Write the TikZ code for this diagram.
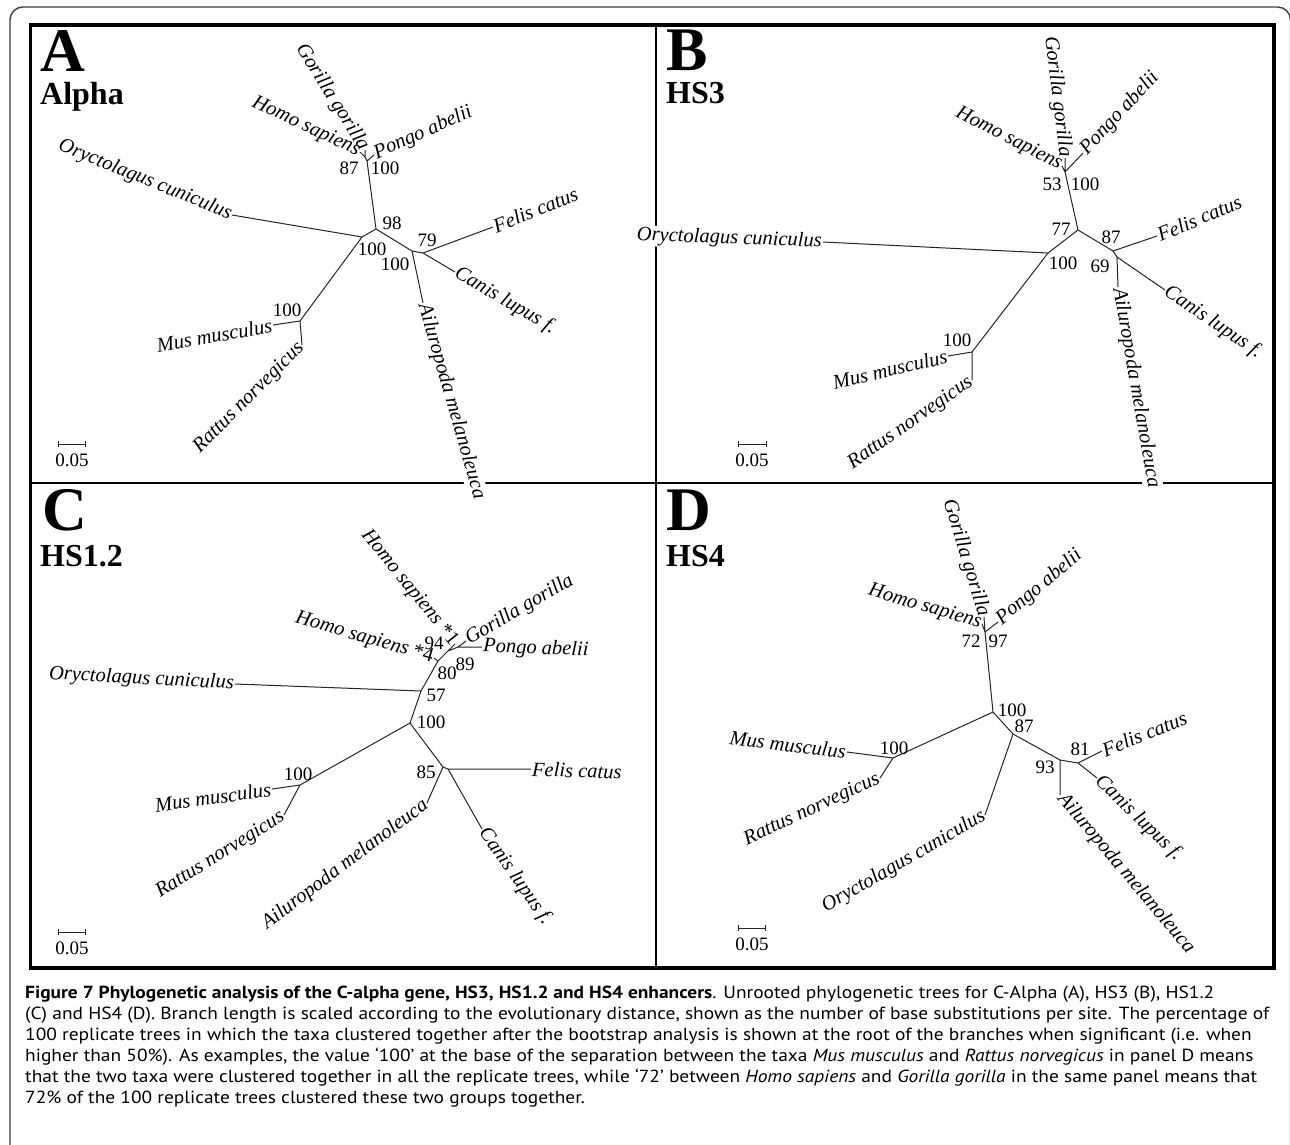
\documentclass[tikz,border=0pt]{standalone}
\usepackage{fontspec}
\usepackage{graphicx}
\setmainfont{Liberation Serif}
\newfontfamily\capfont{PT Sans}
\newcommand\taxfont{\fontsize{20.5}{24}\selectfont\itshape}
\newcommand\numfont{\fontsize{19}{22}\selectfont}
\newcommand\panelfont{\fontsize{62}{62}\selectfont\bfseries}
\newcommand\subfont{\fontsize{32}{32}\selectfont\bfseries}
\newcommand\capsize{\capfont\fontsize{17.5}{21}\selectfont}
\newsavebox\capbox
\newlength\capwd
\tikzset{
  br/.style={line width=1pt, black!85},
  taxon/.style={font=\taxfont, inner sep=1pt},
  tw/.style={taxon, anchor=west},
  te/.style={taxon, anchor=east},
  bs/.style={font=\numfont, inner sep=0pt},
  cut/.style={fill=white},
  plet/.style={font=\panelfont, anchor=north west, inner sep=0pt},
  psub/.style={font=\subfont, anchor=north west, inner sep=0pt},
  capline/.style={anchor=base west, inner sep=0pt, font=\capsize},
  sbar/.style={line width=1pt, black!85},
  frame/.style={line width=3.5pt},
  divider/.style={line width=2pt},
}
\begin{document}
\sbox\capbox{\capsize (C) and HS4 (D). Branch length is scaled according to the evolutionary distance, shown as the number of base substitutions per site. The percentage of}%
\setlength\capwd{\wd\capbox}%
\pgfmathsetmacro\capsc{1244/\capwd}%
\begin{tikzpicture}[x=1pt,y=-1pt]
\useasboundingbox (0,0) rectangle (1290,1144);
\clip (0,0) rectangle (1290,1144);
\fill[white] (0,0) rectangle (1290,1144);
\draw[line width=1.4pt, black!75, rounded corners=13pt] (10,7) rectangle (1290.5,1180);
\draw[frame] (30.5,25) rectangle (1274,968);
\draw[divider] (656,25) -- (656,968);
\draw[divider] (30,483) -- (1274,483);

% panel titles
\node[plet] (LA) at (40,30) {A};
\node[psub] (SA) at (40,82) {Alpha};
\node[plet] (LB) at (666,30) {B};
\node[psub] (SB) at (666,82) {HS3};
\node[plet] (LC) at (42,489) {C};
\node[psub] (SC) at (40,545) {HS1.2};
\node[plet] (LD) at (666,490) {D};
\node[psub] (SD) at (666,545) {HS4};

% ---------------- Panel A ----------------
\coordinate (aHs) at (360,152);
\coordinate (aGg) at (365,150);
\coordinate (aPa) at (374,155);
\coordinate (aN1) at (365,157);
\coordinate (aN2) at (367,161);
\coordinate (aN98) at (376,229);
\coordinate (aNL) at (362,237);
\coordinate (aNR) at (412,251);
\coordinate (aNR2) at (423,253);
\coordinate (aNM) at (300,321);
\coordinate (aOc) at (232,215);
\coordinate (aMm) at (273,325);
\coordinate (aRn) at (302,345);
\coordinate (aFc) at (493,227);
\coordinate (aCl) at (455,272);
\coordinate (aAm) at (423,303);
\draw[br] (aN1)--(aHs) (aN1)--(aGg) (aN1)--(aN2) (aN2)--(aPa) (aN2)--(aN98)
  (aN98)--(aNL) (aN98)--(aNR) (aNL)--(aOc) (aNL)--(aNM) (aNM)--(aMm) (aNM)--(aRn)
  (aNR)--(aAm) (aNR)--(aNR2) (aNR2)--(aFc) (aNR2)--(aCl);
\node[te, rotate=-25] (tAHs) at (aHs) {Homo sapiens};
\node[te, rotate=-58] (tAGg) at (aGg) {Gorilla gorilla};
\node[tw, rotate=24] (tAPa) at (aPa) {Pongo abelii};
\node[te, rotate=-22] (tAOc) at (aOc) {Oryctolagus cuniculus};
\node[te, rotate=10] (tAMm) at (aMm) {Mus musculus};
\node[te, rotate=45] (tARn) at (aRn) {Rattus norvegicus};
\node[tw, rotate=22] (tAFc) at (aFc) {Felis catus};
\node[tw, rotate=-30] (tACl) at (aCl) {Canis lupus f.};
\node[tw, cut, rotate=-74] (tAAm) at (aAm) {Ailuropoda melanoleuca};
\node[bs] (nA1) at (349,168) {87};
\node[bs] (nA2) at (385,168) {100};
\node[bs] (nA3) at (392,223) {98};
\node[bs] (nA4) at (427,240) {79};
\node[bs] (nA5) at (372,249) {100};
\node[bs] (nA6) at (395,264) {100};
\node[bs] (nA7) at (287,310) {100};
\coordinate (aSL) at (58,444);
\coordinate (aSR) at (85,444);
\draw[sbar] (aSL)--(aSR) ([yshift=3pt]aSL)--([yshift=-3pt]aSL) ([yshift=3pt]aSR)--([yshift=-3pt]aSR);
\node[bs] (sA) at (72,460) {0.05};

% ---------------- Panel B ----------------
\coordinate (bHs) at (1062,166);
\coordinate (bGg) at (1065,158);
\coordinate (bPa) at (1083,153);
\coordinate (bN1) at (1065,172);
\coordinate (bN77) at (1078,230);
\coordinate (bNL) at (1048,253);
\coordinate (bNR) at (1113,251);
\coordinate (bNR2) at (1117,257);
\coordinate (bNM) at (972,352);
\coordinate (bOc) at (823,242);
\coordinate (bMm) at (948,356);
\coordinate (bRn) at (972,380);
\coordinate (bFc) at (1157,236);
\coordinate (bCl) at (1165,290);
\coordinate (bAm) at (1118,287);
\draw[br] (bN1)--(bHs) (bN1)--(bGg) (bN1)--(bPa) (bN1)--(bN77)
  (bN77)--(bNL) (bN77)--(bNR) (bNL)--(bOc) (bNL)--(bNM) (bNM)--(bMm) (bNM)--(bRn)
  (bNR)--(bFc) (bNR)--(bNR2) (bNR2)--(bAm) (bNR2)--(bCl);
\node[te, rotate=-27] (tBHs) at (bHs) {Homo sapiens};
\node[te, rotate=-83] (tBGg) at (bGg) {Gorilla gorilla};
\node[tw, rotate=47] (tBPa) at (bPa) {Pongo abelii};
\node[te, cut, rotate=-2] (tBOc) at (bOc) {Oryctolagus cuniculus};
\node[te, rotate=13] (tBMm) at (bMm) {Mus musculus};
\node[te, rotate=35] (tBRn) at (bRn) {Rattus norvegicus};
\node[tw, rotate=23] (tBFc) at (bFc) {Felis catus};
\node[tw, rotate=-34] (tBCl) at (bCl) {Canis lupus f.};
\node[tw, cut, rotate=-80] (tBAm) at (bAm) {Ailuropoda melanoleuca};
\node[bs] (nB1) at (1052,184) {53};
\node[bs] (nB2) at (1085,184) {100};
\node[bs] (nB3) at (1061,229) {77};
\node[bs] (nB4) at (1111,237) {87};
\node[bs] (nB5) at (1063,263) {100};
\node[bs] (nB6) at (1100,266) {69};
\node[bs] (nB7) at (957,340) {100};
\coordinate (bSL) at (738,444);
\coordinate (bSR) at (766,444);
\draw[sbar] (bSL)--(bSR) ([yshift=3pt]bSL)--([yshift=-3pt]bSL) ([yshift=3pt]bSR)--([yshift=-3pt]bSR);
\node[bs] (sB) at (752,460) {0.05};

% ---------------- Panel C ----------------
\coordinate (cN100) at (410,723);
\coordinate (cN57) at (421,691);
\coordinate (cN80) at (438,661);
\coordinate (cHs4) at (434,658);
\coordinate (cN94) at (448,651);
\coordinate (cHs1) at (455,644);
\coordinate (cN89) at (458,647);
\coordinate (cGg) at (466,641);
\coordinate (cPa) at (482,647);
\coordinate (cOc) at (235,684);
\coordinate (cNM) at (300,785);
\coordinate (cMm) at (272,789);
\coordinate (cRn) at (284,815);
\coordinate (cN85) at (443,767);
\coordinate (cNF) at (448,769);
\coordinate (cFc) at (531,769);
\coordinate (cCl) at (482,829);
\coordinate (cAm) at (427,803);
\draw[br] (cN100)--(cN57) (cN57)--(cOc) (cN57)--(cN80) (cN80)--(cHs4) (cN80)--(cN94)
  (cN94)--(cHs1) (cN94)--(cN89) (cN89)--(cGg) (cN89)--(cPa)
  (cN100)--(cNM) (cNM)--(cMm) (cNM)--(cRn)
  (cN100)--(cN85) (cN85)--(cAm) (cN85)--(cNF) (cNF)--(cFc) (cNF)--(cCl);
\node[te, rotate=-3] (tCOc) at (cOc) {Oryctolagus cuniculus};
\node[te, rotate=-51] (tCHs1) at (cHs1) {Homo sapiens \textup{*1}};
\node[te, rotate=-16] (tCHs4) at (cHs4) {Homo sapiens \textup{*4}};
\node[tw, rotate=30] (tCGg) at (cGg) {Gorilla gorilla};
\node[tw, rotate=-2] (tCPa) at (cPa) {Pongo abelii};
\node[tw, rotate=-2] (tCFc) at (cFc) {Felis catus};
\node[tw, rotate=-55] (tCCl) at (cCl) {Canis lupus f.};
\node[te, rotate=37] (tCAm) at (cAm) {Ailuropoda melanoleuca};
\node[te, rotate=32] (tCRn) at (cRn) {Rattus norvegicus};
\node[te, rotate=8] (tCMm) at (cMm) {Mus musculus};
\node[bs] (nC1) at (434,643) {94};
\node[bs] (nC2) at (465,664) {89};
\node[bs] (nC3) at (447,673) {80};
\node[bs] (nC4) at (436,695) {57};
\node[bs] (nC5) at (431,722) {100};
\node[bs] (nC6) at (298,774) {100};
\node[bs] (nC7) at (426,772) {85};
\coordinate (cSL) at (58,932);
\coordinate (cSR) at (85,932);
\draw[sbar] (cSL)--(cSR) ([yshift=3pt]cSL)--([yshift=-3pt]cSL) ([yshift=3pt]cSR)--([yshift=-3pt]cSR);
\node[bs] (sC) at (72,948) {0.05};

% ---------------- Panel D ----------------
\coordinate (dHs) at (982,624);
\coordinate (dGg) at (984,617);
\coordinate (dPa) at (998,622);
\coordinate (dN1) at (985,632);
\coordinate (dN100) at (993,712);
\coordinate (dNM) at (893,758);
\coordinate (dMm) at (847,752);
\coordinate (dRn) at (880,778);
\coordinate (dN87) at (1013,734);
\coordinate (dOc) at (985,815);
\coordinate (dN93) at (1060,760);
\coordinate (dAm) at (1060,795);
\coordinate (dN81) at (1078,763);
\coordinate (dFc) at (1102,751);
\coordinate (dCl) at (1097,778);
\draw[br] (dN1)--(dHs) (dN1)--(dGg) (dN1)--(dPa) (dN1)--(dN100)
  (dN100)--(dNM) (dNM)--(dMm) (dNM)--(dRn) (dN100)--(dN87) (dN87)--(dOc)
  (dN87)--(dN93) (dN93)--(dAm) (dN93)--(dN81) (dN81)--(dFc) (dN81)--(dCl);
\node[te, rotate=-16.5] (tDHs) at (dHs) {Homo sapiens};
\node[te, rotate=-73] (tDGg) at (dGg) {Gorilla gorilla};
\node[tw, rotate=40] (tDPa) at (dPa) {Pongo abelii};
\node[te, rotate=-7] (tDMm) at (dMm) {Mus musculus};
\node[te, rotate=25] (tDRn) at (dRn) {Rattus norvegicus};
\node[te, rotate=30] (tDOc) at (dOc) {Oryctolagus cuniculus};
\node[tw, rotate=-50] (tDAm) at (dAm) {Ailuropoda melanoleuca};
\node[tw, rotate=22] (tDFc) at (dFc) {Felis catus};
\node[tw, rotate=-44] (tDCl) at (dCl) {Canis lupus f.};
\node[bs] (nD1) at (971,641) {72};
\node[bs] (nD2) at (998,641) {97};
\node[bs] (nD3) at (1012,710) {100};
\node[bs] (nD4) at (1024,726) {87};
\node[bs] (nD5) at (894,748) {100};
\node[bs] (nD6) at (1080,749) {81};
\node[bs] (nD7) at (1045,767) {93};
\coordinate (dSL) at (738,928);
\coordinate (dSR) at (765,928);
\draw[sbar] (dSL)--(dSR) ([yshift=3pt]dSL)--([yshift=-3pt]dSL) ([yshift=3pt]dSR)--([yshift=-3pt]dSR);
\node[bs] (sD) at (752,944) {0.05};

% ---------------- Caption ----------------
\node[capline] (cap1) at (25,998) {\scalebox{\capsc}[1]{\textbf{Figure 7 Phylogenetic analysis of the C-alpha gene, HS3, HS1.2 and HS4 enhancers}. Unrooted phylogenetic trees for C-Alpha (A), HS3 (B), HS1.2}};
\node[capline] (cap2) at (25,1019) {\scalebox{\capsc}[1]{(C) and HS4 (D). Branch length is scaled according to the evolutionary distance, shown as the number of base substitutions per site. The percentage of}};
\node[capline] (cap3) at (25,1040) {\scalebox{\capsc}[1]{100 replicate trees in which the taxa clustered together after the bootstrap analysis is shown at the root of the branches when significant (i.e. when}};
\node[capline] (cap4) at (25,1061) {\scalebox{\capsc}[1]{higher than 50\%). As examples, the value ‘100’ at the base of the separation between the taxa \textit{Mus musculus} and \textit{Rattus norvegicus} in panel D means}};
\node[capline] (cap5) at (25,1082) {\scalebox{\capsc}[1]{that the two taxa were clustered together in all the replicate trees, while ‘72’ between \textit{Homo sapiens} and \textit{Gorilla gorilla} in the same panel means that}};
\node[capline] (cap6) at (25,1103) {\scalebox{\capsc}[1]{72\% of the 100 replicate trees clustered these two groups together.}};
\end{tikzpicture}
\end{document}
